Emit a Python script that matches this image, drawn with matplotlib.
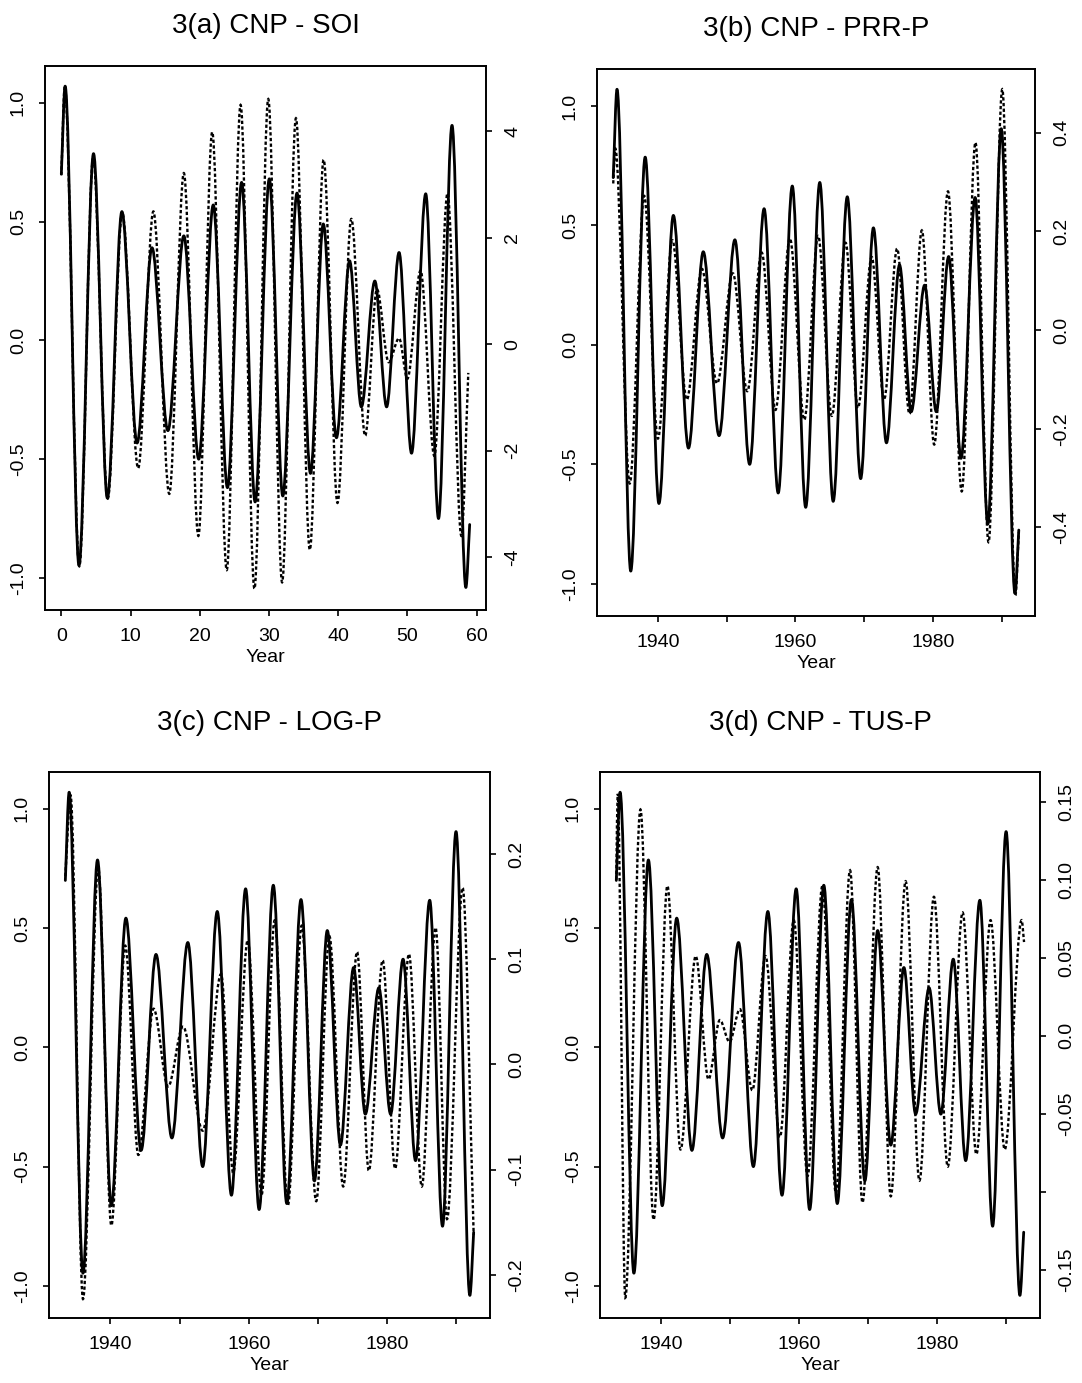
import matplotlib
matplotlib.use("Agg")
import matplotlib.pyplot as plt
from matplotlib.path import Path
from matplotlib.patches import PathPatch

plt.rcParams['font.family'] = ['Liberation Sans', 'DejaVu Sans']

# CNP reconstructed component: turning points, years since start of record
start_year = 1933.5
cnp_t = [0.0, 0.55, 2.55, 4.65, 6.65, 8.75, 10.95, 13.1, 15.4, 17.7, 19.85, 21.95,
         24.0, 26.05, 28.0, 30.05, 32.0, 34.05, 36.0, 37.85, 39.75, 41.65, 43.35,
         45.3, 47.0, 48.8, 50.6, 52.65, 54.5, 56.45, 58.45, 59.0]
cnp_val = [0.70, 1.07, -0.947, 0.786, -0.664, 0.542, -0.432, 0.39, -0.38, 0.44, -0.50, 0.57,
           -0.62, 0.665, -0.68, 0.68, -0.655, 0.62, -0.56, 0.49, -0.41, 0.335, -0.28,
           0.25, -0.28, 0.37, -0.475, 0.617, -0.75, 0.905, -1.04, -0.775]

# SOI component (panel a, right axis)
soi_t = [0.0, 0.5, 2.6, 4.6, 6.7, 8.8, 11.1, 13.3, 15.6, 17.7, 19.8, 21.8, 23.9, 25.9,
         27.9, 29.9, 31.9, 33.9, 35.9, 37.9, 39.9, 41.9, 43.9, 45.6, 47.3, 48.8, 50.0,
         51.9, 53.9, 55.8, 57.8, 58.8]
soi_val = [3.17, 4.84, -4.17, 3.5, -2.9, 2.47, -2.33, 2.49, -2.81, 3.21, -3.6, 3.98, -4.24, 4.49,
           -4.59, 4.6, -4.47, 4.24, -3.86, 3.46, -2.98, 2.35, -1.72, 1.03, -0.34, 0.11, -0.65,
           1.38, -2.1, 2.83, -3.6, -0.54]

# PRR-P component (panel b)
prr_year = [1933.5, 1933.8, 1935.9, 1938.0, 1940.0, 1942.1, 1944.2, 1946.4, 1948.6, 1950.9,
            1953.0, 1955.1, 1957.1, 1959.2, 1961.3, 1963.3, 1965.3, 1967.3, 1969.1, 1971.1,
            1972.9, 1974.8, 1976.6, 1978.4, 1980.2, 1982.2, 1984.2, 1986.2, 1988.1, 1990.1,
            1992.0, 1992.5]
prr_val = [0.297, 0.368, -0.311, 0.272, -0.22, 0.182, -0.141, 0.124, -0.108, 0.115,
           -0.124, 0.157, -0.162, 0.186, -0.182, 0.191, -0.174, 0.177, -0.158, 0.148,
           -0.141, 0.165, -0.17, 0.202, -0.232, 0.281, -0.327, 0.38, -0.43, 0.488,
           -0.538, -0.41]

# LOG-P component (panel c)
log_year = [1933.5, 1934.25, 1936.05, 1938.25, 1940.15, 1942.15, 1944.05, 1946.25, 1948.35,
            1950.5, 1953.35, 1956.0, 1957.75, 1959.85, 1961.85, 1963.75, 1965.65, 1967.65,
            1969.75, 1971.65, 1973.65, 1975.65, 1977.35, 1979.35, 1981.15, 1983.15, 1985.0,
            1987.0, 1988.65, 1990.9, 1992.5]
log_val = [0.179, 0.256, -0.223, 0.187, -0.153, 0.113, -0.086, 0.053, -0.021,
           0.036, -0.063, 0.086, -0.103, 0.118, -0.124, 0.137, -0.134, 0.132,
           -0.13, 0.122, -0.116, 0.107, -0.101, 0.099, -0.099, 0.105, -0.116,
           0.13, -0.147, 0.168, -0.162]

# TUS-P component (panel d)
tus_year = [1933.5, 1933.7, 1934.8, 1937.0, 1938.9, 1940.9, 1942.8, 1945.0, 1946.85, 1948.5,
            1949.9, 1951.4, 1953.2, 1955.1, 1957.2, 1959.2, 1961.2, 1963.35, 1965.3, 1967.35,
            1969.15, 1971.35, 1973.25, 1975.4, 1977.4, 1979.5, 1981.5, 1983.65, 1985.65,
            1987.7, 1989.75, 1992.2, 1992.55]
tus_val = [0.10, 0.155, -0.168, 0.145, -0.118, 0.096, -0.073, 0.051, -0.028, 0.010,
           -0.004, 0.017, -0.035, 0.051, -0.065, 0.074, -0.09, 0.096, -0.101, 0.106,
           -0.107, 0.108, -0.103, 0.099, -0.093, 0.089, -0.084, 0.079, -0.076,
           0.074, -0.073, 0.074, 0.06]

titles = ["3(a) CNP - SOI", "3(b) CNP - PRR-P", "3(c) CNP - LOG-P", "3(d) CNP - TUS-P"]
left_ticks = [-1.0, -0.5, 0.0, 0.5, 1.0]
left_labels = ["-1.0", "-0.5", "0.0", "0.5", "1.0"]
right_ticks = [[-4, -2, 0, 2, 4],
               [-0.4, -0.2, 0.0, 0.2, 0.4],
               [-0.2, -0.1, 0.0, 0.1, 0.2],
               [-0.15, -0.10, -0.05, 0.0, 0.05, 0.10, 0.15]]
right_labels = [["-4", "-2", "0", "2", "4"],
                ["-0.4", "-0.2", "0.0", "0.2", "0.4"],
                ["-0.2", "-0.1", "0.0", "0.1", "0.2"],
                ["-0.15", "", "-0.05", "0.0", "0.05", "0.10", "0.15"]]


def wave_path(x, y):
    # smooth curve through the turning points, flat at each extremum
    verts = [(x[0], y[0])]
    codes = [Path.MOVETO]
    n = len(x)
    for i in range(n - 1):
        dx = (x[i + 1] - x[i]) / 3.0
        if i == 0:
            c1 = (x[i] + dx, y[i] + (y[i + 1] - y[i]) / 3.0)
        else:
            c1 = (x[i] + dx, y[i])
        if i == n - 2:
            c2 = (x[i + 1] - dx, y[i + 1] - (y[i + 1] - y[i]) / 3.0)
        else:
            c2 = (x[i + 1] - dx, y[i + 1])
        verts += [c1, c2, (x[i + 1], y[i + 1])]
        codes += [Path.CURVE4] * 3
    return Path(verts, codes)


W, H = 1082, 1383
# axes boxes in pixels: left, right, top, bottom
boxes = [(45, 486, 66, 610), (597, 1035, 69, 616), (49, 490, 772, 1318), (600, 1040, 772, 1318)]
right_lims = [(-4.99, 5.22), (-0.5795, 0.529), (-0.241, 0.278), (-0.181, 0.169)]
title_pads = [24, 24, 30, 30]

fig = plt.figure(figsize=(W / 100, H / 100), dpi=100)

cnp_years = [start_year + t for t in cnp_t]
series_x = [soi_t, prr_year, log_year, tus_year]
series_y = [soi_val, prr_val, log_val, tus_val]

for k in range(4):
    l, r, t, b = boxes[k]
    ax = fig.add_axes([l / W, 1 - b / H, (r - l) / W, (b - t) / H])
    ax2 = ax.twinx()

    if k == 0:
        cx = cnp_t
        ax.set_xlim(-2.36, 61.36)
        ax.set_xticks([0, 10, 20, 30, 40, 50, 60])
        ax.set_xticklabels(["0", "10", "20", "30", "40", "50", "60"])
    else:
        cx = cnp_years
        ax.set_xlim(1931.14, 1994.86)
        ax.set_xticks([1940, 1950, 1960, 1970, 1980, 1990])
        ax.set_xticklabels(["1940", "", "1960", "", "1980", ""])

    ax.add_patch(PathPatch(wave_path(cx, cnp_val), fill=False, edgecolor='black',
                           linewidth=2.0, capstyle='round', joinstyle='round'))
    ax2.add_patch(PathPatch(wave_path(series_x[k], series_y[k]), fill=False,
                            edgecolor='black', linewidth=1.7, linestyle=(0, (1.4, 1.0))))

    ax.set_ylim(-1.1348, 1.1548)
    ax.set_yticks(left_ticks)
    ax.set_yticklabels(left_labels)
    ax2.set_ylim(*right_lims[k])
    ax2.set_yticks(right_ticks[k])
    ax2.set_yticklabels(right_labels[k])

    for a in (ax, ax2):
        a.tick_params(direction='out', length=4, width=1.2, labelsize=14, pad=9)
    ax.tick_params(axis='y', labelrotation=90)
    ax2.tick_params(axis='y', labelrotation=90)
    for lab in ax.get_yticklabels() + ax2.get_yticklabels():
        lab.set_va('center')

    for s in ax.spines.values():
        s.set_linewidth(1.4)
    for s in ax2.spines.values():
        s.set_visible(False)

    ax.set_xlabel("Year", fontsize=14, labelpad=3)
    ax.set_title(titles[k], fontsize=20, pad=title_pads[k])

fig.savefig("out.png", dpi=100)
